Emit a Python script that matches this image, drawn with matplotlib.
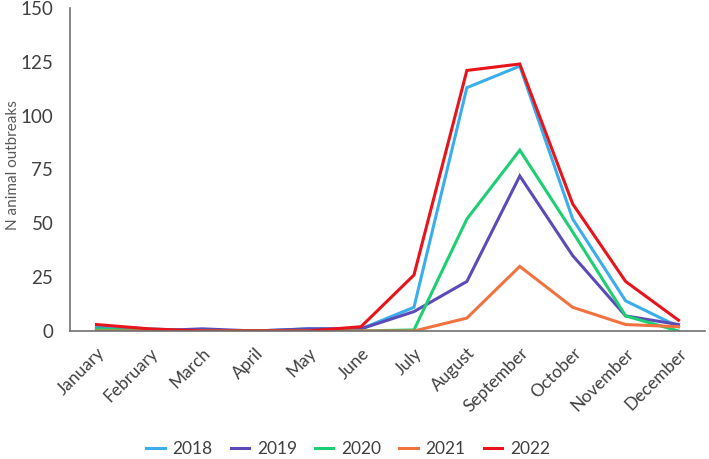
import matplotlib
matplotlib.use("Agg")
import matplotlib.pyplot as plt

plt.rcParams["font.family"] = ["Lato", "DejaVu Sans"]

months = ["January", "February", "March", "April", "May", "June", "July",
          "August", "September", "October", "November", "December"]

y2018 = [2, 1, 0, 0, 1, 1, 11, 113, 123, 52, 14, 2]
y2019 = [1, 0, 1, 0, 1, 1, 9, 23, 72, 35, 7, 3]
y2020 = [1, 0, 0, 0, 0, 0, 0.5, 52, 84, 46, 7, 0]
y2021 = [0, 0, 0, 0, 0, 0, 0, 6, 30, 11, 3, 2]
y2022 = [3, 1, 0, 0, 0, 2, 26, 121, 124, 59, 23, 5]

series = [("2018", y2018, "#3aaeea"), ("2019", y2019, "#5a4bb8"),
          ("2020", y2020, "#1dcf72"), ("2021", y2021, "#f0733f"),
          ("2022", y2022, "#e8141b")]

text_color = "#404040"

fig = plt.figure(figsize=(7.09, 4.59), dpi=100)
ax = fig.add_axes([70 / 709, 1 - 331 / 459, 635 / 709, 323 / 459])

x = list(range(len(months)))
for name, vals, col in series:
    ax.plot(x, vals, color=col, lw=2.2, label=name, solid_joinstyle="miter")

ax.set_xlim(-0.5, 11.5)
ax.set_ylim(0, 150)
ax.set_yticks([0, 25, 50, 75, 100, 125, 150])
ax.set_xticks(x)
ax.set_xticklabels(months, rotation=45, ha="right", rotation_mode="anchor")
ax.tick_params(axis="both", length=0, colors=text_color)
ax.tick_params(axis="y", pad=12, labelsize=13.5)
ax.tick_params(axis="x", pad=10, labelsize=12.5)
ax.set_ylabel("N animal outbreaks", fontsize=11, color="#595959")
ax.yaxis.set_label_coords(-50 / 635, 0.514)

for s in ["top", "right"]:
    ax.spines[s].set_visible(False)
for s in ["left", "bottom"]:
    ax.spines[s].set_color("#707070")
    ax.spines[s].set_linewidth(1.2)

fig.legend(loc="center", bbox_to_anchor=(0.491, 1 - 449 / 459), ncol=5, frameon=False,
           fontsize=12.5, handlelength=1.05, handletextpad=0.45, columnspacing=1.05,
           labelcolor=text_color)

fig.savefig("out.png", dpi=100)
